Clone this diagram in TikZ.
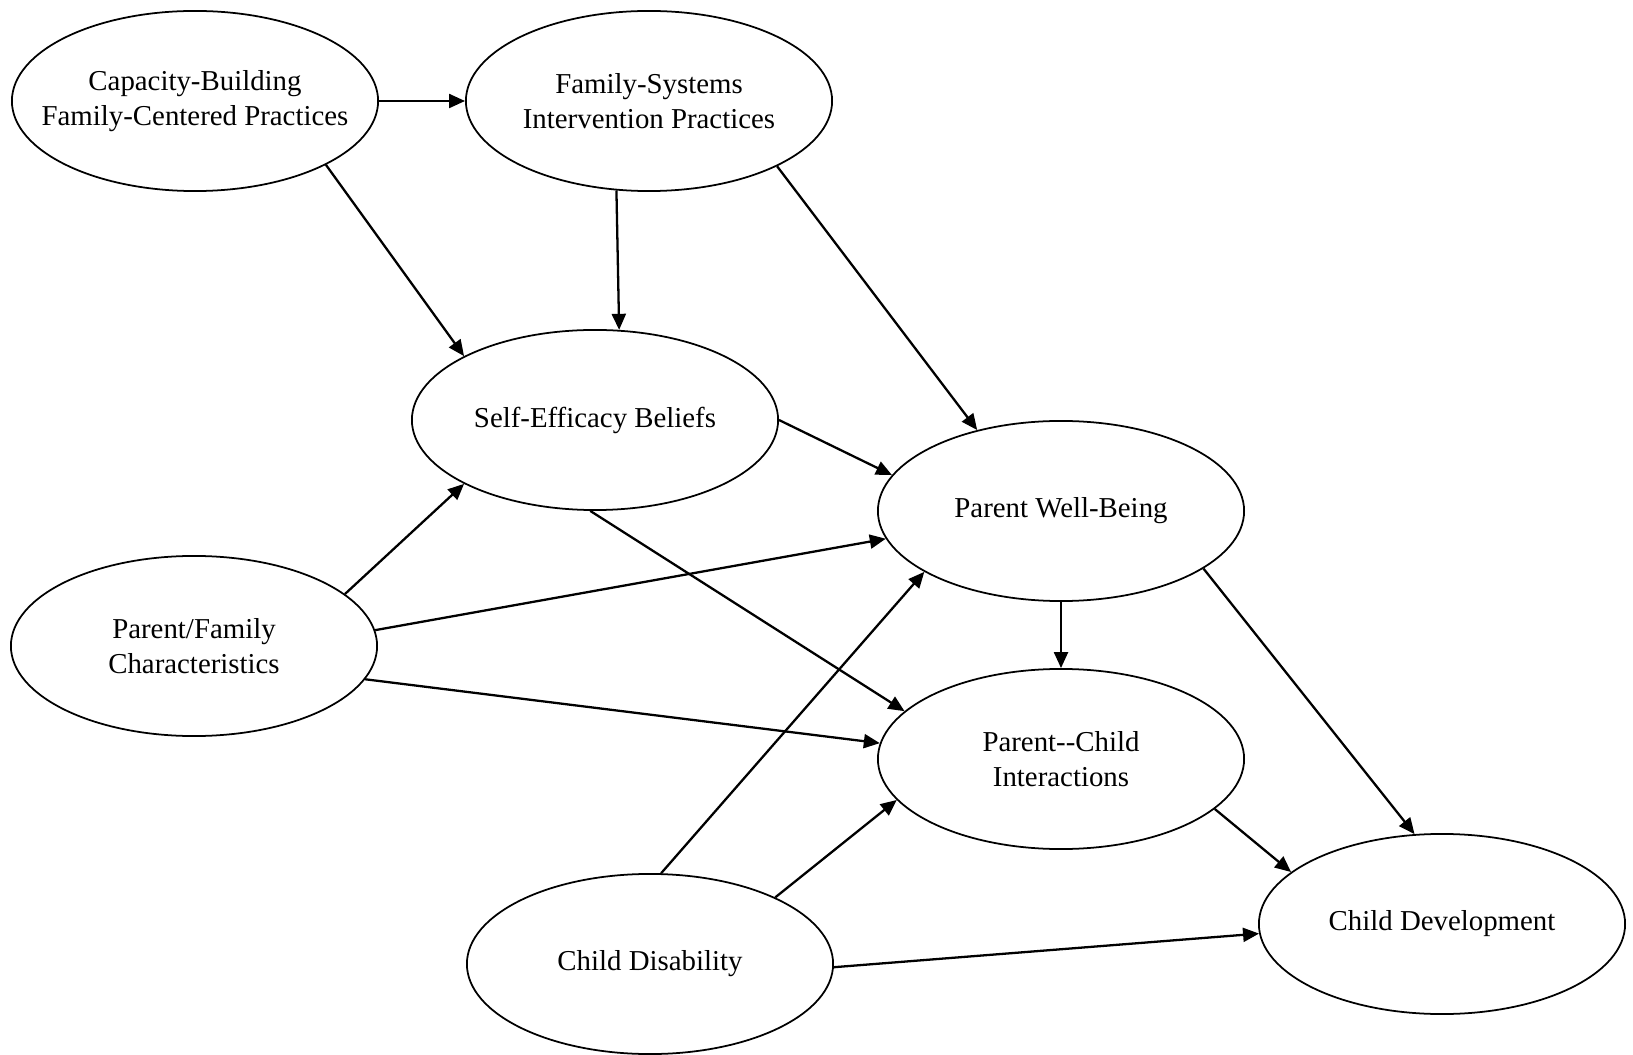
\documentclass[tikz,border=0pt]{standalone}
\usepackage{fontspec}
\setmainfont{Liberation Serif}
\usetikzlibrary{shapes.geometric,arrows.meta}

\begin{document}
\begin{tikzpicture}[x=0.01cm,y=-0.01cm]
\tikzstyle{every node}+=[inner sep=-3mm]
\tikzstyle{oval}=[draw=black, ellipse, line width=0.5pt, minimum width=3.66cm, minimum height=1.80cm, align=center, font=\fontsize{8.2}{9.8}\selectfont]
\tikzstyle{link}=[black, line width=0.65pt, -{Triangle[length=1.6mm,width=1.4mm]}]
\useasboundingbox (0,0) rectangle (1633,1055);
\node [oval] (cap) at (195,101) {Capacity-Building\\Family-Centered Practices};
\node [oval] (fsys) at (649,101) {Family-Systems\\Intervention Practices};
\node [oval] (self) at (595,420) {Self-Efficacy Beliefs};
\node [oval] (pwb) at (1061,511) {Parent Well-Being};
\node [oval] (pfc) at (194,646) {Parent/Family\\Characteristics};
\node [oval] (pci) at (1061,759) {Parent-{}-Child\\Interactions};
\node [oval] (cdev) at (1442,924) {Child Development};
\node [oval] (cdis) at (650,964) {Child Disability};
\draw [link] (cap.0) -- (fsys.180);
\draw [link] (cap.-26.7) -- (self.154.6);
\draw [link] (fsys.250.7) -- (self.75.6);
\draw [link] (fsys.-27.3) -- (pwb.136.7);
\draw [link] (self.-0.3) -- (pwb.168.8);
\draw [link] (self.267) -- (pci.163.2);
\draw [link] (pfc.19.6) -- (self.206.7);
\draw [link] (pfc.5.4) -- (pwb.189.1);
\draw [link] (pfc.-11.9) -- (pci.175.5);
\draw [link] (pwb.270) -- (pci.90);
\draw [link] (pwb.-22.3) -- (cdev.107.1);
\draw [link] (pci.-18.9) -- (cdev.161.2);
\draw [link] (cdis.83.5) -- (pwb.204.8);
\draw [link] (cdis.28.6) -- (pci.194.6);
\draw [link] (cdis.-1) -- (cdev.183.5);
\end{tikzpicture}
\end{document}
